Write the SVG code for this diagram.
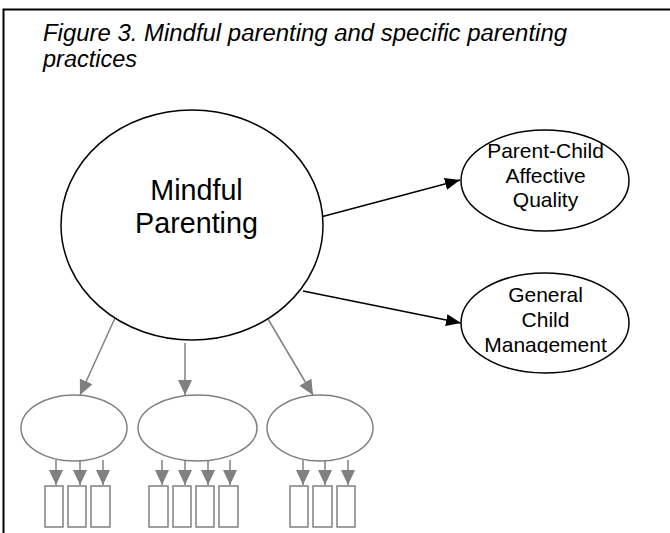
<svg xmlns="http://www.w3.org/2000/svg" width="670" height="533" viewBox="0 0 670 533">
<style>
.t{font-family:"Liberation Sans",Arial,sans-serif;fill:#000}
.blk{fill:#fff;stroke:#000;stroke-width:1.5}
.gry{fill:#fff;stroke:#808080;stroke-width:1.5}
.lb{stroke:#000;stroke-width:1.5;fill:none}
.lg{stroke:#808080;stroke-width:1.5;fill:none}
</style>
<defs>
<marker id="ab" markerUnits="userSpaceOnUse" markerWidth="16" markerHeight="14" refX="15" refY="6" orient="auto">
<path d="M0,0 L15,6 L0,12 z" fill="#000"/>
</marker>
<marker id="ag" markerUnits="userSpaceOnUse" markerWidth="16" markerHeight="16" refX="15" refY="7" orient="auto">
<path d="M0,0 L15,7 L0,14 z" fill="#808080"/>
</marker>
<clipPath id="clipGM"><rect x="440" y="260" width="220" height="93"/></clipPath>
</defs>
<rect width="670" height="533" fill="#fff"/>
<path d="M3.5,533 V9.5 H670" fill="none" stroke="#000" stroke-width="2"/>
<g id="title">
<text class="t" x="43" y="41" font-size="23.5" font-style="italic" textLength="524" lengthAdjust="spacingAndGlyphs">Figure 3. Mindful parenting and specific parenting</text>
<text class="t" x="43" y="67" font-size="23.5" font-style="italic">practices</text>
</g>
<g id="connectors">
<line class="lb" x1="317" y1="218" x2="460" y2="180" marker-end="url(#ab)"/>
<line class="lb" x1="303" y1="291" x2="461" y2="323" marker-end="url(#ab)"/>
<line class="lg" x1="115" y1="318" x2="80" y2="395" marker-end="url(#ag)"/>
<line class="lg" x1="185" y1="343" x2="185" y2="395" marker-end="url(#ag)"/>
<line class="lg" x1="268" y1="319" x2="313" y2="395" marker-end="url(#ag)"/>
<line class="lg" x1="56" y1="460" x2="56" y2="485" marker-end="url(#ag)"/>
<line class="lg" x1="80" y1="460" x2="80" y2="485" marker-end="url(#ag)"/>
<line class="lg" x1="103" y1="460" x2="103" y2="485" marker-end="url(#ag)"/>
<line class="lg" x1="162" y1="460" x2="162" y2="485" marker-end="url(#ag)"/>
<line class="lg" x1="185" y1="460" x2="185" y2="485" marker-end="url(#ag)"/>
<line class="lg" x1="208" y1="460" x2="208" y2="485" marker-end="url(#ag)"/>
<line class="lg" x1="230" y1="460" x2="230" y2="485" marker-end="url(#ag)"/>
<line class="lg" x1="303" y1="460" x2="303" y2="485" marker-end="url(#ag)"/>
<line class="lg" x1="325" y1="460" x2="325" y2="485" marker-end="url(#ag)"/>
<line class="lg" x1="348" y1="460" x2="348" y2="485" marker-end="url(#ag)"/>
</g>
<g id="mindful">
<ellipse class="blk" cx="192" cy="225" rx="131" ry="115"/>
<text class="t" x="196.5" y="200" font-size="28.7" text-anchor="middle">Mindful</text>
<text class="t" x="196.5" y="233" font-size="28.7" text-anchor="middle">Parenting</text>
</g>
<g id="affective">
<ellipse class="blk" cx="545" cy="180.5" rx="84" ry="50.5"/>
<text class="t" x="545.5" y="158.3" font-size="21" text-anchor="middle">Parent-Child</text>
<text class="t" x="545.5" y="183.3" font-size="21" text-anchor="middle">Affective</text>
<text class="t" x="545.5" y="206.7" font-size="21" text-anchor="middle">Quality</text>
</g>
<g id="management">
<ellipse class="blk" cx="545" cy="323" rx="84" ry="50"/>
<g clip-path="url(#clipGM)">
<text class="t" x="545.5" y="302.3" font-size="21" text-anchor="middle">General</text>
<text class="t" x="545.5" y="327.3" font-size="21" text-anchor="middle">Child</text>
<text class="t" x="545.5" y="351.7" font-size="21" text-anchor="middle">Management</text>
</g>
</g>
<g id="factor1">
<ellipse class="gry" cx="74" cy="428" rx="53" ry="33"/>
</g>
<g id="factor2">
<ellipse class="gry" cx="197.5" cy="428" rx="59.5" ry="33"/>
</g>
<g id="factor3">
<ellipse class="gry" cx="320" cy="428" rx="53" ry="33"/>
</g>
<g id="items1">
<rect class="gry" x="45" y="486" width="18" height="41"/>
<rect class="gry" x="68" y="486" width="18" height="41"/>
<rect class="gry" x="91" y="486" width="19" height="41"/>
</g>
<g id="items2">
<rect class="gry" x="149" y="486" width="19" height="41"/>
<rect class="gry" x="173" y="486" width="18" height="41"/>
<rect class="gry" x="196" y="486" width="18" height="41"/>
<rect class="gry" x="219" y="486" width="19" height="41"/>
</g>
<g id="items3">
<rect class="gry" x="290" y="486" width="18" height="41"/>
<rect class="gry" x="313" y="486" width="19" height="41"/>
<rect class="gry" x="337" y="486" width="18" height="41"/>
</g>
</svg>
